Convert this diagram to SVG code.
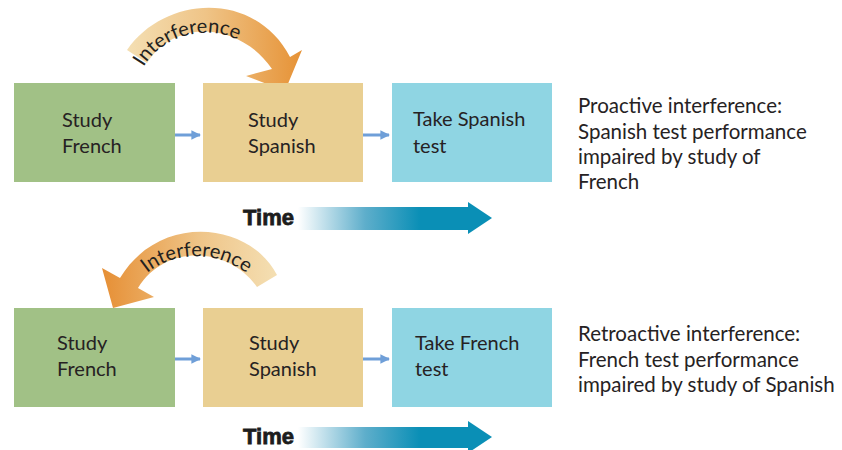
<svg xmlns="http://www.w3.org/2000/svg" width="842" height="450" viewBox="0 0 842 450">
<defs>
<linearGradient id="gTop" gradientUnits="userSpaceOnUse" x1="127" y1="0" x2="302" y2="0">
<stop offset="0" stop-color="#f4dfb3"/><stop offset="0.45" stop-color="#efc487"/><stop offset="1" stop-color="#e69236"/>
</linearGradient>
<linearGradient id="gBot" gradientUnits="userSpaceOnUse" x1="102" y1="0" x2="277" y2="0">
<stop offset="0" stop-color="#e68f35"/><stop offset="0.55" stop-color="#efc487"/><stop offset="1" stop-color="#f4dfb3"/>
</linearGradient>
<linearGradient id="gTime" gradientUnits="userSpaceOnUse" x1="298" y1="0" x2="420" y2="0">
<stop offset="0" stop-color="#ffffff"/><stop offset="0.55" stop-color="#5eaecb"/><stop offset="1" stop-color="#0a8fb6"/>
</linearGradient>
<marker id="ah" viewBox="0 0 10 10" refX="9" refY="5" markerWidth="3.2" markerHeight="3.2" orient="auto" markerUnits="strokeWidth">
<path d="M0,0 L10,5 L0,10 Z" fill="#6f9fd8"/>
</marker>
<path id="tpTop" d="M143,68 C167,25 238,18 266,66"/>
<path id="tpBot" d="M131,291 C163,242 232,248 262,289"/>
</defs>
<style>
.box text{font-family:Lato,"Open Sans","Liberation Sans",sans-serif;font-size:20px;fill:#262223}
.note{font-family:Lato,"Open Sans","Liberation Sans",sans-serif;font-size:20.5px;fill:#262223}
.conn{stroke:#6f9fd8;stroke-width:3;fill:none;marker-end:url(#ah)}
.time{font-family:"Liberation Sans",Arial,sans-serif;font-weight:bold;font-size:22px;fill:#1d1d1d;stroke:#1d1d1d;stroke-width:0.8}
.intf{font-family:Lato,"Open Sans","Liberation Sans",sans-serif;font-size:20px;fill:#231f20}
</style>
<rect width="842" height="450" fill="#ffffff"/>

<!-- interference arrows -->
<g id="interference-top">
<path d="M127,50 C165,-5 255,-10 290,57 L302,50 L285,91 L246,76 L272,69 C240,22 175,18 147,63 Z" fill="url(#gTop)"/>
<text class="intf"><textPath href="#tpTop" startOffset="1">Interference</textPath></text>
</g>
<g id="interference-bottom">
<path d="M277,275 C250,222 160,212 120,278 L102,268 L113,308 L154,297 L138,288 C165,244 228,246 257,287 Z" fill="url(#gBot)"/>
<text class="intf"><textPath href="#tpBot" startOffset="24">Interference</textPath></text>
</g>

<!-- top row -->
<g id="top-french" class="box">
<rect x="14" y="83" width="161" height="99" fill="#a1c186"/>
<text x="62" y="127">Study</text><text x="62" y="153">French</text>
</g>
<g id="top-spanish" class="box">
<rect x="203" y="83" width="160" height="99" fill="#e9cf92"/>
<text x="248" y="127">Study</text><text x="248" y="153">Spanish</text>
</g>
<g id="top-test" class="box">
<rect x="392" y="83" width="160" height="99" fill="#8fd5e3"/>
<text x="413" y="126">Take Spanish</text><text x="413" y="153">test</text>
</g>

<!-- bottom row -->
<g id="bot-french" class="box">
<rect x="14" y="308" width="161" height="99" fill="#a1c186"/>
<text x="57" y="350">Study</text><text x="57" y="376">French</text>
</g>
<g id="bot-spanish" class="box">
<rect x="203" y="308" width="160" height="99" fill="#e9cf92"/>
<text x="249" y="350">Study</text><text x="249" y="376">Spanish</text>
</g>
<g id="bot-test" class="box">
<rect x="392" y="308" width="160" height="99" fill="#8fd5e3"/>
<text x="415" y="350">Take French</text><text x="415" y="376">test</text>
</g>

<g id="connectors">
<line class="conn" x1="175" y1="135" x2="200" y2="135"/>
<line class="conn" x1="363" y1="135" x2="389" y2="135"/>
<line class="conn" x1="175" y1="359" x2="200" y2="359"/>
<line class="conn" x1="363" y1="359" x2="389" y2="359"/>
</g>

<!-- notes -->
<g id="note-top">
<text class="note" x="578" y="113">Proactive interference:</text>
<text class="note" x="578" y="139">Spanish test performance</text>
<text class="note" x="578" y="164">impaired by study of</text>
<text class="note" x="578" y="189">French</text>
</g>
<g id="note-bottom">
<text class="note" x="578" y="341">Retroactive interference:</text>
<text class="note" x="578" y="367">French test performance</text>
<text class="note" x="578" y="392">impaired by study of Spanish</text>
</g>

<!-- time arrows -->
<g id="time-top">
<text class="time" x="243" y="225">Time</text>
<path d="M298,207 L468,207 L468,202 L492,218 L468,234 L468,230 L298,230 Z" fill="url(#gTime)"/>
</g>
<g id="time-bottom">
<text class="time" x="243" y="444">Time</text>
<path d="M298,427 L468,427 L468,421 L492,437 L468,453 L468,448 L298,448 Z" fill="url(#gTime)"/>
</g>
</svg>
